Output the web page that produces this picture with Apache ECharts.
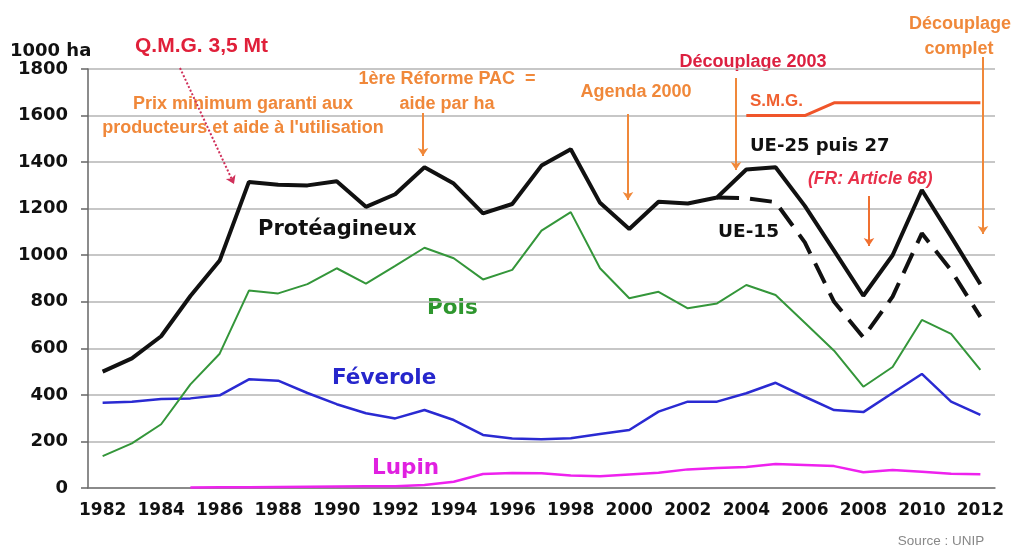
<!DOCTYPE html>
<html>
<head>
<meta charset="utf-8">
<title>Surfaces protéagineux</title>
<script src="https://cdn.jsdelivr.net/npm/echarts@6/dist/echarts.min.js"></script>
<style>
    html, body { margin: 0; padding: 0; background: #fff; }
    #chart { width: 1018px; height: 549px; }
</style>
</head>
<body>
<div id="chart"></div>
<script>
// années
const years = ['1982','1983','1984','1985','1986','1987','1988','1989','1990','1991','1992','1993','1994','1995','1996','1997','1998','1999','2000','2001','2002','2003','2004','2005','2006','2007','2008','2009','2010','2011','2012']

// surfaces en 1000 ha
const proteagineux = [500, 557, 652, 825, 977, 1315, 1303, 1300, 1318, 1208, 1262, 1378, 1308, 1180, 1220, 1385, 1455, 1225, 1113, 1230, 1222, 1248, 1368, 1378, 1212, 1020, 826, 1000, 1280, 1080, 875]
const ue15 = [null, null, null, null, null, null, null, null, null, null, null, null, null, null, null, null, null, null, null, null, null, 1248, 1245, 1228, 1055, 800, 647, 822, 1094, 935, 735]
const pois = [137, 192, 274, 445, 577, 848, 836, 876, 944, 878, 954, 1032, 987, 896, 937, 1106, 1185, 944, 815, 843, 772, 793, 872, 829, 710, 590, 435, 520, 722, 662, 507]
const feverole = [366, 371, 382, 385, 398, 467, 461, 408, 360, 321, 299, 335, 292, 228, 213, 209, 214, 232, 249, 328, 371, 371, 407, 452, 392, 335, 326, 408, 490, 371, 314]
const lupin = [null, null, null, 2, 3, 3, 4, 5, 6, 7, 8, 13, 27, 60, 64, 63, 54, 50, 58, 66, 80, 86, 90, 103, 99, 94, 68, 77, 70, 61, 59]
const smg = [null, null, null, null, null, null, null, null, null, null, null, null, null, null, null, null, null, null, null, null, null, null, 1600, 1600, 1600, 1655, 1655, 1655, 1655, 1655, 1655]

const ORANGE = '#f0883a'
const RED = '#dc2040'

// petites fonctions pour les annotations
const txt = (text, x, y, font, fill, align) => ({
    type: 'text',
    x: x,
    y: y,
    silent: true,
    style: {
        text: text,
        font: font,
        fill: fill,
        align: align || 'left',
        textAlign: align || 'left',
        verticalAlign: 'middle',
        textVerticalAlign: 'middle'
    }
})
const arrow = (x1, y1, x2, y2, color, type) => ([
    { x: x1, y: y1, lineStyle: { color: color, width: 2, type: type || 'solid' } },
    { x: x2, y: y2 }
])

const BOLD = 'bold 18px "Liberation Sans"'

const chart = echarts.init(document.getElementById('chart'))

const option = {
    animation: false,
    grid: { left: 88, right: 23, top: 69, bottom: 61 },
    xAxis: {
        type: 'category',
        data: years,
        boundaryGap: true,
        axisLine: { lineStyle: { color: '#777', width: 1.5 } },
        axisTick: { interval: 0, length: 6, lineStyle: { color: '#777', width: 1.5 } },
        axisLabel: {
            interval: 1,
            margin: 14,
            color: '#111',
            fontFamily: 'DejaVu Sans',
            fontWeight: 'bold',
            fontSize: 17
        },
        splitLine: { show: false }
    },
    yAxis: {
        type: 'value',
        min: 0,
        max: 1800,
        interval: 200,
        axisLine: { show: true, lineStyle: { color: '#666', width: 1.5 } },
        axisTick: { show: true, length: 7, lineStyle: { color: '#666', width: 1.5 } },
        axisLabel: {
            margin: 20,
            color: '#111',
            fontFamily: 'DejaVu Sans',
            fontWeight: 'bold',
            fontSize: 18,
            formatter: (v) => String(v)
        },
        splitLine: { lineStyle: { color: '#b4b4b4', width: 1.5 } }
    },
    series: [
        {
            name: 'Lupin',
            type: 'line',
            data: lupin,
            symbol: 'none',
            lineStyle: { color: '#ee22ee', width: 2.5 }
        },
        {
            name: 'Féverole',
            type: 'line',
            data: feverole,
            symbol: 'none',
            lineStyle: { color: '#2a2ad2', width: 2.5 }
        },
        {
            name: 'Pois',
            type: 'line',
            data: pois,
            symbol: 'none',
            lineStyle: { color: '#34963a', width: 2 }
        },
        {
            name: 'UE-15',
            type: 'line',
            data: ue15,
            symbol: 'none',
            lineStyle: { color: '#111', width: 4, type: [22, 11] }
        },
        {
            name: 'Protéagineux',
            type: 'line',
            data: proteagineux,
            symbol: 'none',
            lineStyle: { color: '#111', width: 4 },
            // flèches des annotations
            markLine: {
                silent: true,
                symbol: ['none', 'arrow'],
                symbolSize: 8,
                label: { show: false },
                emphasis: { disabled: true },
                data: [
                    arrow(180, 68, 234, 184, '#d0305a', 'dotted'),
                    arrow(423, 113, 423, 156, ORANGE),
                    arrow(628, 114, 628, 200, ORANGE),
                    arrow(736, 78, 736, 170, ORANGE),
                    arrow(869, 196, 869, 246, '#f07030'),
                    arrow(983, 57, 983, 234, ORANGE)
                ]
            }
        },
        {
            name: 'S.M.G.',
            type: 'line',
            data: smg,
            symbol: 'none',
            lineStyle: { color: '#f0552a', width: 3 }
        }
    ],
    graphic: [
        txt('1000 ha', 10, 51, 'bold 18px "DejaVu Sans"', '#111'),
        txt('Q.M.G. 3,5 Mt', 135, 46, 'bold 21px "Liberation Sans"', '#e0203a'),
        txt('Prix minimum garanti aux', 243, 104, BOLD, ORANGE, 'center'),
        txt("producteurs et aide à l'utilisation", 243, 128, BOLD, ORANGE, 'center'),
        txt('1ère Réforme PAC  =', 447, 79, BOLD, ORANGE, 'center'),
        txt('aide par ha', 447, 104, BOLD, ORANGE, 'center'),
        txt('Agenda 2000', 636, 92, BOLD, ORANGE, 'center'),
        txt('Découplage 2003', 753, 62, BOLD, RED, 'center'),
        txt('S.M.G.', 750, 101, 'bold 17px "Liberation Sans"', '#f06030'),
        txt('Découplage', 960, 24, BOLD, ORANGE, 'center'),
        txt('complet', 959, 49, BOLD, ORANGE, 'center'),
        txt('UE-25 puis 27', 750, 146, 'bold 18px "DejaVu Sans"', '#111'),
        txt('(FR: Article 68)', 808, 179, 'italic bold 17.5px "Liberation Sans"', '#e8304a'),
        txt('Protéagineux', 258, 230, 'bold 21px "DejaVu Sans"', '#111'),
        txt('UE-15', 718, 232, 'bold 18.5px "DejaVu Sans"', '#111'),
        txt('Pois', 427, 308, 'bold 21.5px "DejaVu Sans"', '#2e962e'),
        txt('Féverole', 332, 378, 'bold 21.5px "DejaVu Sans"', '#2626cc'),
        txt('Lupin', 372, 468, 'bold 21.5px "DejaVu Sans"', '#e020e0'),
        txt('Source : UNIP', 941, 541, '13.5px "Liberation Sans"', '#888', 'center')
    ]
}

chart.setOption(option)
</script>
</body>
</html>
